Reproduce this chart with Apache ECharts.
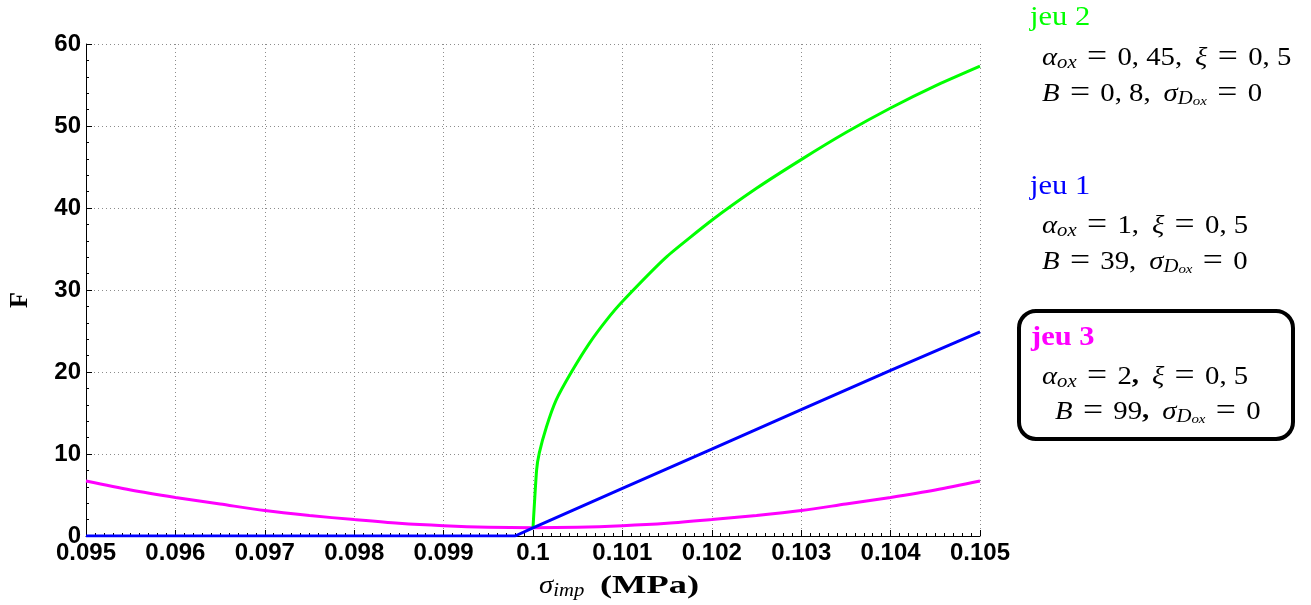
<!DOCTYPE html>
<html><head><meta charset="utf-8">
<script src="https://cdn.jsdelivr.net/npm/echarts@6/dist/echarts.min.js"></script>
<style>html,body{margin:0;padding:0;background:#fff}#c{width:1311px;height:605px}</style>
</head><body><div id="c"></div>
<script>
// jeu 2 (green)
const sigmaJeu2 = [0.1, 0.10004, 0.10007, 0.10015, 0.10026, 0.10043, 0.10063, 0.10082, 0.101, 0.1015, 0.102, 0.1025, 0.103, 0.1035, 0.104, 0.1045, 0.105];
const FJeu2 = [1.0, 8.0, 10.1, 13.3, 16.6, 20.0, 23.5, 26.3, 28.6, 34.1, 38.5, 42.4, 45.9, 49.2, 52.2, 54.9, 57.3];
// jeu 1 (blue)
const sigmaJeu1 = [0.095, 0.0998, 0.1, 0.101, 0.102, 0.103, 0.104, 0.105];
const FJeu1 = [0, 0, 1.0, 5.8, 10.6, 15.4, 20.2, 24.9];
// jeu 3 (magenta)
const sigmaJeu3 = [0.095, 0.0955, 0.096, 0.0965, 0.097, 0.0975, 0.098, 0.0985, 0.099, 0.0995, 0.1, 0.1005, 0.101, 0.1015, 0.102, 0.1025, 0.103, 0.1035, 0.104, 0.1045, 0.105];
const FJeu3 = [6.7, 5.6, 4.7, 3.9, 3.1, 2.5, 2.0, 1.55, 1.25, 1.06, 1.0, 1.06, 1.25, 1.55, 2.0, 2.5, 3.1, 3.9, 4.7, 5.6, 6.7];
// axes
const xTicks = [0.095, 0.096, 0.097, 0.098, 0.099, 0.1, 0.101, 0.102, 0.103, 0.104, 0.105];
const yTicks = [0, 10, 20, 30, 40, 50, 60];

const zip = (xs, ys) => xs.map((x, i) => [x, ys[i]]);
const serif = "'Liberation Serif', 'DejaVu Serif', serif";
const richMath = {
  i: {fontFamily: serif, fontStyle: 'italic', fontSize: 25, lineHeight: 28, fill: '#000'},
  r: {fontFamily: serif, fontSize: 25, lineHeight: 28, fill: '#000'},
  e: {fontFamily: serif, fontSize: 31, lineHeight: 28, fill: '#000', padding: [0, 9, 0, 9]},
  b: {fontFamily: serif, fontSize: 25, fontWeight: 'bold', lineHeight: 28, fill: '#000'},
  s: {fontFamily: serif, fontStyle: 'italic', fontSize: 18, lineHeight: 14, verticalAlign: 'bottom', fill: '#000'},
  ss: {fontFamily: serif, fontStyle: 'italic', fontSize: 13, lineHeight: 6, verticalAlign: 'bottom', fill: '#000'}
};
const SX = 1.15;
function mathText(x, y, text) {
  return {type: 'text', x: x, y: y, scaleX: SX, style: {text: text, rich: richMath, verticalAlign: 'middle', align: 'left'}};
}
function titleText(x, y, text, color, bold) {
  return {type: 'text', x: x, y: y, scaleX: 1.09, style: {text: text, fill: color, fontFamily: serif, fontSize: 28, fontWeight: bold ? 'bold' : 'normal', verticalAlign: 'middle', align: 'left'}};
}
const sp = ' \u2009';

const chart = echarts.init(document.getElementById('c'));
const tickFont = {fontFamily: "'Liberation Sans', Arial, sans-serif", fontWeight: 'bold', fontSize: 24, color: '#000'};
chart.setOption({
  animation: false,
  backgroundColor: '#fff',
  grid: {left: 86, top: 44, right: 331, bottom: 69, containLabel: false},
  xAxis: {
    type: 'value', min: 0.095, max: 0.105, interval: 0.001,
    axisLine: {show: true, lineStyle: {color: '#000', width: 1}},
    axisTick: {show: true, inside: true, length: 6, lineStyle: {color: '#000'}},
    minorTick: {show: true, splitNumber: 10, length: 3, lineStyle: {color: '#000'}},
    axisLabel: Object.assign({margin: 5, formatter: v => String(parseFloat(v.toFixed(4)))}, tickFont),
    splitLine: {show: true, lineStyle: {color: '#8c8c8c', type: [1, 3], width: 1}}
  },
  yAxis: {
    type: 'value', min: 0, max: 60, interval: 10,
    axisLine: {show: true, lineStyle: {color: '#000', width: 1}},
    axisTick: {show: true, inside: true, length: 6, lineStyle: {color: '#000'}},
    minorTick: {show: true, splitNumber: 5, length: 3, lineStyle: {color: '#000'}},
    axisLabel: Object.assign({margin: 5, formatter: v => yTicks.includes(v) ? String(v) : ''}, tickFont),
    splitLine: {show: true, lineStyle: {color: '#8c8c8c', type: [1, 3], width: 1}}
  },
  series: [
    {type: 'line', data: zip(sigmaJeu3, FJeu3), showSymbol: false, smooth: 0.3, lineStyle: {color: '#ff00ff', width: 3}, z: 2},
    {type: 'line', data: zip(sigmaJeu2, FJeu2), showSymbol: false, smooth: 0.15, lineStyle: {color: '#00ff00', width: 3}, z: 3},
    {type: 'line', data: zip(sigmaJeu1, FJeu1), showSymbol: false, lineStyle: {color: '#0000ff', width: 3}, z: 4}
  ],
  graphic: [
    {type: 'text', x: 20, y: 300, rotation: Math.PI / 2, style: {text: 'F', fontFamily: serif, fontWeight: 'bold', fontSize: 26, fill: '#000', align: 'center', verticalAlign: 'middle'}},
    mathText(539, 586, '{i|σ}{s|imp}'),
    {type: 'text', x: 600, y: 586, scaleX: 1.4, style: {text: '(MPa)', fontFamily: serif, fontWeight: 'bold', fontSize: 26, fill: '#000', verticalAlign: 'middle', align: 'left'}},
    titleText(1030, 18, 'jeu 2', '#00ff00', false),
    mathText(1042, 58, '{i|α}{s|ox}{e|=}{r|0, 45,' + sp + '}{i|ξ}{e|=}{r|0, 5}'),
    mathText(1042, 94, '{i|B}{e|=}{r|0, 8,' + sp + '}{i|σ}{s|D}{ss|ox}{e|=}{r|0}'),
    titleText(1030, 187, 'jeu 1', '#0000ff', false),
    mathText(1042, 226, '{i|α}{s|ox}{e|=}{r|1,' + sp + '}{i|ξ}{e|=}{r|0, 5}'),
    mathText(1042, 262, '{i|B}{e|=}{r|39,' + sp + '}{i|σ}{s|D}{ss|ox}{e|=}{r|0}'),
    {type: 'rect', shape: {x: 1019, y: 311, width: 274, height: 128, r: 17}, style: {fill: 'none', stroke: '#000', lineWidth: 4}},
    titleText(1031, 338, 'jeu 3', '#ff00ff', true),
    mathText(1042, 377, '{i|α}{s|ox}{e|=}{r|2}{b|,}{r|' + sp + '}{i|ξ}{e|=}{r|0, 5}'),
    mathText(1055, 412, '{i|B}{e|=}{r|99}{b|,}{r|' + sp + '}{i|σ}{s|D}{ss|ox}{e|=}{r|0}')
  ]
});
</script></body></html>
